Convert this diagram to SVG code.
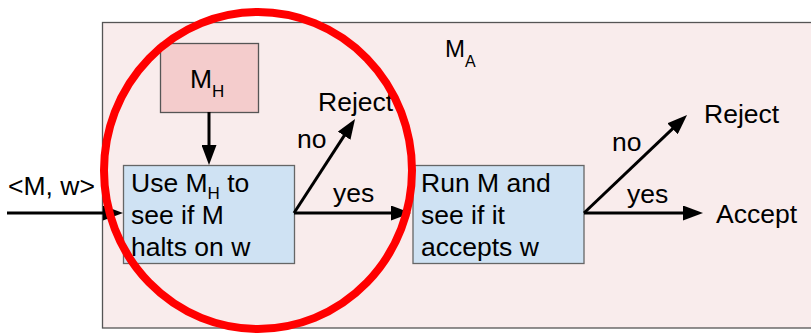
<svg xmlns="http://www.w3.org/2000/svg" width="811" height="333" viewBox="0 0 811 333">
  <style>
    text { font-family: "Liberation Sans", Arial, sans-serif; fill: #000; }
    .lbl { font-size: 26.5px; }
    .sub { font-size: 17px; }
    .box-blue { fill: #cfe2f3; stroke: #666; stroke-width: 1.3; }
    .box-pink { fill: #f4cccc; stroke: #555; stroke-width: 1.3; }
    .edge { stroke: #000; stroke-width: 3; fill: none; marker-end: url(#head); }
  </style>
  <defs>
    <marker id="head" viewBox="0 0 20 15" refX="10" refY="7.5" markerWidth="20" markerHeight="15" markerUnits="userSpaceOnUse" orient="auto">
      <path d="M0,0 L20,7.5 L0,15 Z" fill="#000"/>
    </marker>
  </defs>

  <rect width="811" height="333" fill="#fff"/>

  <!-- machine M_A container -->
  <g id="machine-MA">
    <rect x="102.5" y="22.5" width="720" height="305.5" fill="#f9ecec" stroke="#555" stroke-width="1.3"/>
    <text class="lbl" x="445" y="57" style="font-size:24px">M<tspan class="sub" dy="10" style="font-size:16px">A</tspan></text>
  </g>

  <!-- decider M_H -->
  <g id="node-MH">
    <rect class="box-pink" x="160.5" y="43.5" width="98" height="69"/>
    <text class="lbl" x="190" y="88">M<tspan class="sub" dy="9">H</tspan></text>
  </g>

  <!-- halting check -->
  <g id="node-halts">
    <rect class="box-blue" x="123.5" y="165.5" width="171" height="98"/>
    <text class="lbl" x="131" y="192">Use M<tspan class="sub" dy="7">H</tspan><tspan dy="-7"> to</tspan></text>
    <text class="lbl" x="131" y="224">see if M</text>
    <text class="lbl" x="131" y="256">halts on w</text>
  </g>

  <!-- run check -->
  <g id="node-run">
    <rect class="box-blue" x="413" y="165.5" width="171" height="98"/>
    <text class="lbl" x="421" y="192">Run M and</text>
    <text class="lbl" x="421" y="224">see if it</text>
    <text class="lbl" x="421" y="256">accepts w</text>
  </g>

  <!-- outcome labels -->
  <g id="node-reject1"><text class="lbl" x="318" y="111">Reject</text></g>
  <g id="node-reject2"><text class="lbl" x="704" y="123">Reject</text></g>
  <g id="node-accept"><text class="lbl" x="716" y="223">Accept</text></g>
  <g id="node-input"><text class="lbl" x="8" y="195">&lt;M, w&gt;</text></g>

  <!-- connectors -->
  <g id="connectors">
    <line class="edge" x1="7" y1="213" x2="113" y2="213"/>
    <line class="edge" x1="209" y1="112" x2="209" y2="155"/>
    <line class="edge" x1="294" y1="213" x2="401" y2="213"/>
    <line class="edge" x1="294" y1="213" x2="349.6" y2="127.4"/>
    <line class="edge" x1="584" y1="213" x2="693" y2="213"/>
    <line class="edge" x1="584" y1="213" x2="679.8" y2="121.9"/>
    <text class="lbl" x="297" y="148">no</text>
    <text class="lbl" x="333" y="202">yes</text>
    <text class="lbl" x="612" y="151">no</text>
    <text class="lbl" x="627" y="203">yes</text>
  </g>

  <!-- highlight ring -->
  <ellipse cx="258" cy="170.5" rx="154" ry="158.5" fill="none" stroke="#ff0000" stroke-width="8"/>
</svg>
